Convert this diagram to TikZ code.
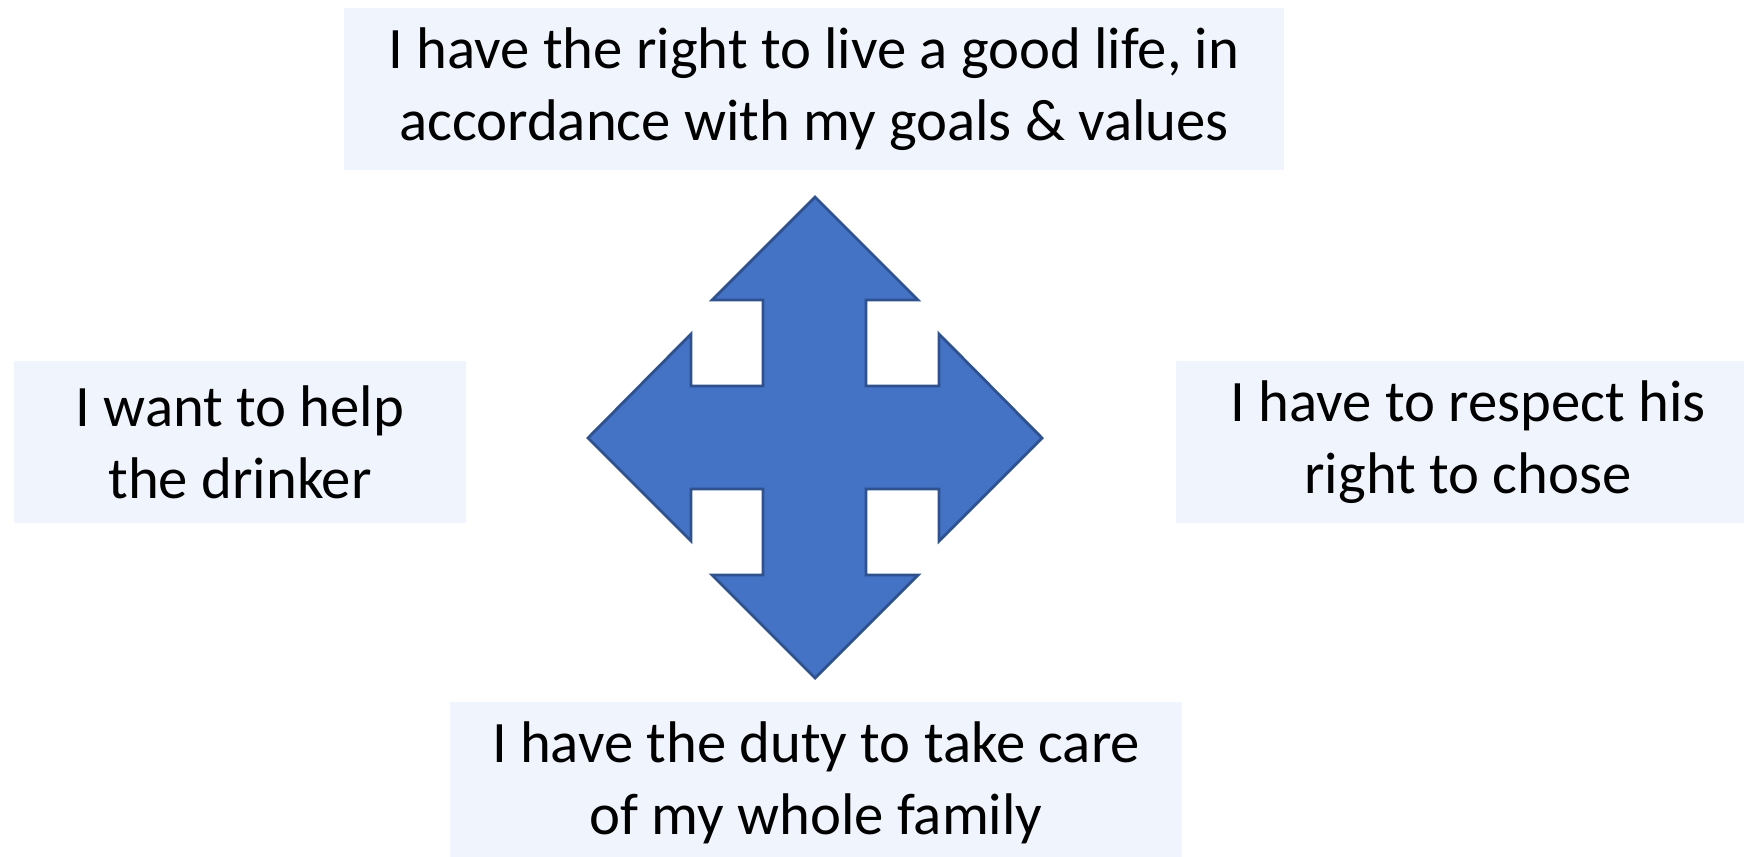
\documentclass[tikz,border=0pt]{standalone}
\usepackage{fontspec}
\setmainfont{Carlito}
\definecolor{boxfill}{HTML}{EFF4FD}
\definecolor{arrowblue}{HTML}{4472C4}
\definecolor{arrowedge}{HTML}{2F528F}

\begin{document}
\begin{tikzpicture}[x=0.01cm,y=-0.01cm,
    statement/.style={fill=boxfill, align=center, inner sep=0pt, minimum height=1.61cm,
      font=\fontsize{16.7}{20.4}\selectfont}]
        \useasboundingbox (0,0) rectangle (1744,857);
        \node[statement, minimum width=9.39cm] (life) at (814,89) {I have the right to live a good life, in\\accordance with my goals \& values};
        \node[statement, minimum width=4.52cm] (help) at (240,442) {I want to help\\the drinker};
        \node[statement, minimum width=5.84cm] (respect) at (1468,442) {I have to respect his\\right to chose};
        \node[statement, minimum width=7.31cm] (duty) at (816,783) {I have the duty to take care\\of my whole family};
        \filldraw[fill=arrowblue, draw=arrowedge, line width=0.8pt, line join=miter]
          (815,197) -- (918,300) -- (866,300) -- (866,386) -- (939,386) -- (939,334)
          -- (1042,438) -- (939,541) -- (939,489) -- (866,489) -- (866,575) -- (918,575)
          -- (815,678) -- (712,575) -- (763,575) -- (763,489) -- (691,489) -- (691,541)
          -- (588,438) -- (691,334) -- (691,386) -- (763,386) -- (763,300) -- (712,300) -- cycle;
    \end{tikzpicture}
\end{document}
